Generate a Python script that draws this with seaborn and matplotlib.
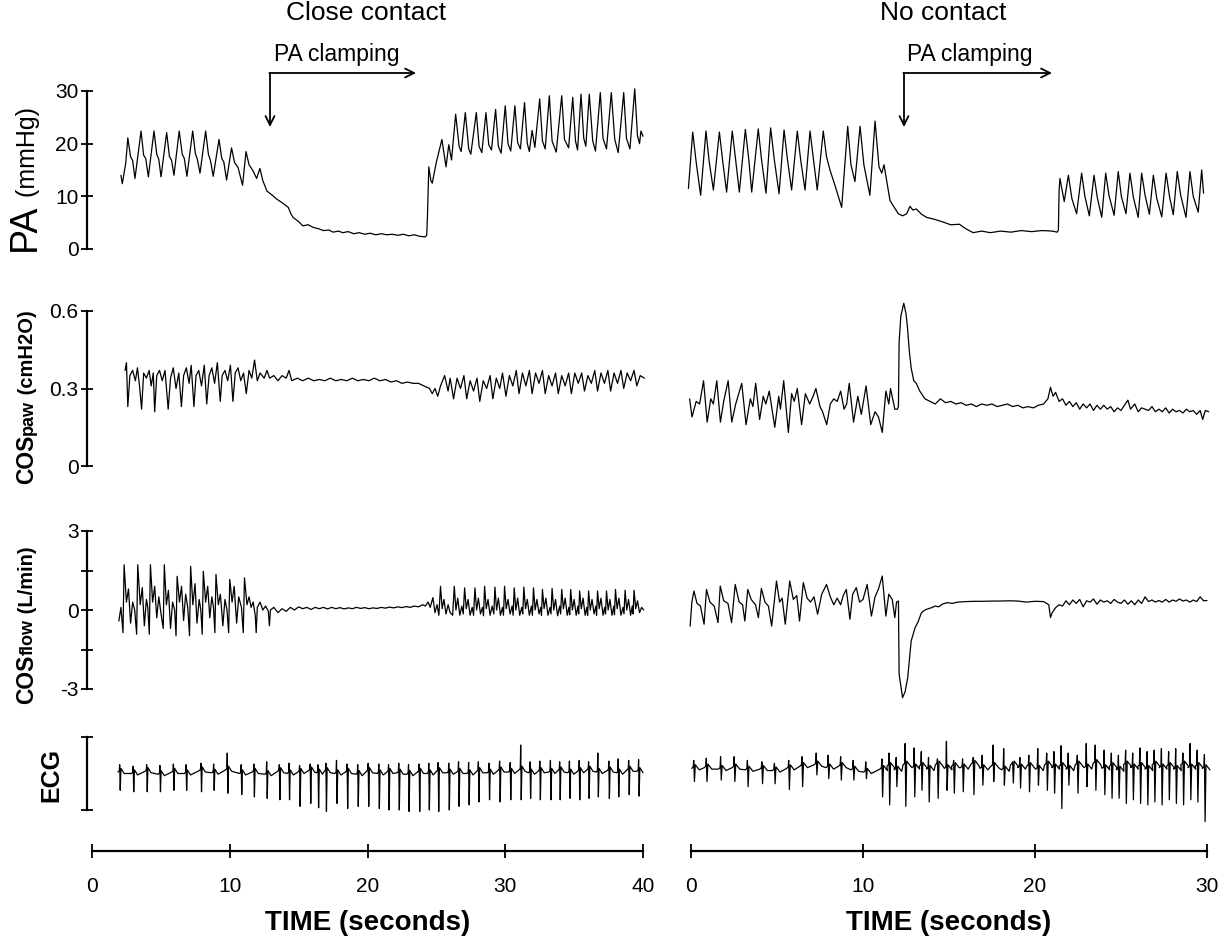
import matplotlib
matplotlib.use("Agg")
import matplotlib.pyplot as plt
import seaborn as sns

sns.set_style("ticks", {"text.color": "black", "axes.labelcolor": "black",
                        "xtick.color": "black", "ytick.color": "black", "axes.edgecolor": "black"})
plt.rcParams["font.family"] = ["Liberation Sans", "DejaVu Sans"]

# ---------------- data ----------------
titles = ["Close contact", "No contact"]
time_ticks_left = [0, 10, 20, 30, 40]
time_ticks_right = [0, 10, 20, 30]

# PA (mmHg), close contact
PA_L = [(2.1,14.0),(2.2,12.4),(2.45,16.3),(2.6,21.1),(2.8,17.5),(2.95,16.8),(3.12,13.4),(3.56,22.4),(3.75,17.8),(3.9,17.2),
        (4.09,13.7),(4.5,22.4),(4.7,18.0),(4.85,17.0),(5.01,13.7),(5.42,22.1),(5.62,17.6),(5.78,16.8),(5.95,14.0),(6.33,22.4),
        (6.55,18.0),(6.7,17.2),(6.89,13.8),(7.31,22.4),(7.5,18.2),(7.65,17.0),(7.84,14.4),(8.25,22.4),(8.45,18.0),(8.6,16.8),
        (8.8,13.8),(9.22,20.8),(9.42,17.2),(9.57,16.5),(9.77,13.1),(10.13,19.2),(10.35,16.4),(10.6,15.5),(10.93,12.1),(11.18,18.5),
        (11.4,16.0),(11.7,14.8),(11.95,13.4),(12.19,15.3),(12.4,13.0),(12.7,11.0),(13.0,10.4),(13.4,9.5),(13.9,8.6),(14.25,7.9),
        (14.45,6.6),(14.6,6.0),(15.0,5.2),(15.3,4.4),(15.7,4.6),(16.06,4.1),(16.5,3.8),(16.8,3.5),(17.2,3.6),(17.5,3.2),
        (17.9,3.4),(18.2,3.1),(18.6,3.3),(19.0,2.9),(19.4,3.1),(19.8,2.8),(20.2,3.0),(20.6,2.7),(21.0,2.9),(21.4,2.7),
        (21.8,2.8),(22.2,2.6),(22.6,2.8),(23.0,2.5),(23.4,2.7),(23.8,2.4),(24.2,2.3),(24.3,2.6),(24.35,6.0),(24.45,15.6),
        (24.6,13.0),(24.7,12.5),(25.0,16.5),(25.4,20.8),(25.7,15.6),(25.9,19.8),(26.1,16.9),
        (26.4,25.6),(26.65,19.5),(26.8,18.5),(27.1,25.9),(27.35,19.0),(27.5,18.0),(27.9,25.9),(28.1,19.5),(28.3,18.3),
        (28.6,25.9),(28.8,19.8),(29.0,18.8),(29.3,26.5),(29.5,19.5),(29.7,18.2),(30.0,27.2),(30.2,20.0),(30.4,18.6),
        (30.7,27.2),(30.9,20.2),(31.1,19.0),(31.4,27.8),(31.6,20.0),(31.75,18.5),(31.95,22.5),(32.15,19.3),(32.5,28.5),
        (32.7,20.5),(32.9,19.0),(33.2,29.1),(33.4,20.5),(33.7,18.4),(34.1,29.1),(34.3,20.8),(34.6,19.2),(34.9,28.8),
        (35.1,20.5),(35.25,18.8),(35.5,29.4),(35.7,21.0),(35.85,19.5),(36.1,29.4),(36.35,20.5),(36.55,18.6),(36.9,29.7),
        (37.1,21.0),(37.35,19.0),(37.7,29.7),(37.95,20.8),(38.2,18.3),(38.6,29.7),(38.8,21.0),(39.05,19.0),(39.4,30.4),
        (39.6,21.5),(39.75,20.0),(39.85,22.4),(40.0,21.4)]

# PA (mmHg), no contact
PA_R = [(-0.15,11.5),(0.1,22.2),(0.3,16.5),(0.56,10.2),(0.87,22.4),(1.05,16.8),(1.3,11.2),(1.65,22.2),(1.85,16.5),(2.07,10.8),
        (2.4,22.4),(2.6,16.8),(2.81,10.8),(3.16,22.7),(3.36,17.0),(3.53,10.8),(3.91,22.8),(4.1,17.0),(4.36,10.6),(4.63,23.0),
        (4.85,16.8),(5.12,10.5),(5.41,22.6),(5.6,17.2),(5.85,11.2),(6.18,22.4),(6.38,16.8),(6.63,11.2),(6.92,22.4),(7.12,17.0),
        (7.34,11.2),(7.69,22.4),(7.88,17.5),(8.08,15.0),(8.37,12.1),(8.76,7.9),(9.11,23.3),(9.3,16.0),(9.53,12.8),(9.83,23.3),
        (10.05,16.0),(10.4,10.2),(10.7,24.3),(10.93,15.6),(11.09,14.4),(11.22,16.0),(11.57,9.2),(12.05,6.7),(12.3,6.3),(12.54,6.7),
        (12.73,8.1),(12.9,7.4),(13.1,7.6),(13.4,6.6),(13.7,6.0),(14.2,5.6),(14.67,5.1),(15.1,4.6),(15.6,4.7),(16.0,3.8),
        (16.4,3.1),(16.9,3.4),(17.4,3.1),(18.0,3.4),(18.6,3.2),(19.2,3.5),(19.8,3.3),(20.4,3.5),(21.0,3.4),(21.3,3.2),
        (21.36,3.6),(21.4,11.0),(21.45,13.4),(21.7,9.0),(21.94,14.0),(22.15,9.5),(22.42,6.7),(22.71,14.4),(22.9,10.0),(23.16,6.3),
        (23.43,14.0),(23.62,9.8),(23.88,6.0),(24.11,14.4),(24.3,10.2),(24.6,6.4),(24.84,14.7),(25.02,10.0),(25.29,6.7),(25.52,14.4),
        (25.72,9.8),(26.0,6.0),(26.2,14.4),(26.4,10.2),(26.65,6.6),(26.88,14.0),(27.08,9.6),(27.37,6.1),(27.62,14.4),(27.82,10.0),
        (28.04,6.5),(28.27,14.7),(28.47,10.2),(28.78,6.0),(29.01,14.7),(29.2,10.0),(29.49,7.0),(29.69,15.0),(29.8,10.6)]

# COSpaw (cmH2O), close contact
PAW_L = [(2.4,0.37),(2.5,0.40),(2.6,0.23),(2.75,0.35),(2.95,0.37),(3.15,0.33),(3.3,0.38),(3.45,0.31),(3.6,0.22),(3.75,0.36),
         (3.95,0.34),(4.15,0.37),(4.3,0.31),(4.45,0.36),(4.55,0.21),(4.7,0.35),(4.9,0.37),(5.1,0.33),(5.3,0.37),(5.53,0.22),
         (5.7,0.34),(5.9,0.38),(6.1,0.30),(6.3,0.36),(6.49,0.23),(6.65,0.35),(6.85,0.38),(7.05,0.32),(7.2,0.39),(7.4,0.23),
         (7.55,0.35),(7.75,0.37),(7.95,0.31),(8.15,0.39),(8.33,0.24),(8.5,0.35),(8.7,0.38),(8.9,0.32),(9.1,0.40),(9.31,0.25),
         (9.45,0.35),(9.65,0.37),(9.85,0.33),(10.05,0.39),(10.23,0.25),(10.4,0.36),(10.6,0.38),(10.8,0.33),(11.0,0.36),(11.2,0.28),
         (11.4,0.37),(11.6,0.34),(11.8,0.41),(12.0,0.33),(12.2,0.36),(12.5,0.34),(12.7,0.37),(12.9,0.34),(13.2,0.35),(13.5,0.33),
         (13.8,0.35),(14.1,0.34),(14.3,0.37),(14.5,0.33),(14.9,0.34),(15.3,0.33),(15.7,0.34),(16.1,0.33),(16.5,0.335),(16.9,0.33),
         (17.3,0.34),(17.7,0.33),(18.1,0.335),(18.5,0.33),(18.9,0.34),(19.3,0.33),(19.7,0.335),(20.1,0.33),(20.5,0.34),(20.9,0.33),
         (21.3,0.335),(21.7,0.325),(22.1,0.33),(22.5,0.32),(22.9,0.325),(23.3,0.32),(23.7,0.32),(24.1,0.31),(24.5,0.30),(24.7,0.28),
         (24.9,0.30),(25.1,0.27),(25.3,0.31),(25.6,0.35),(25.85,0.29),(26.0,0.34),(26.25,0.26),(26.5,0.34),(26.75,0.30),(27.0,0.35),
         (27.2,0.26),(27.45,0.33),(27.7,0.29),(27.95,0.34),(28.15,0.25),(28.4,0.33),(28.65,0.30),(28.9,0.35),(29.1,0.26),(29.35,0.34),
         (29.6,0.30),(29.8,0.36),(30.05,0.27),(30.3,0.35),(30.55,0.31),(30.8,0.37),(31.0,0.28),(31.25,0.36),(31.5,0.31),(31.75,0.37),
         (31.95,0.28),(32.2,0.36),(32.45,0.32),(32.7,0.37),(32.9,0.28),(33.15,0.35),(33.4,0.31),(33.65,0.36),(33.85,0.28),(34.1,0.35),
         (34.35,0.31),(34.6,0.36),(34.8,0.28),(35.05,0.36),(35.3,0.32),(35.55,0.36),(35.75,0.29),(36.0,0.35),(36.25,0.32),(36.5,0.37),
         (36.7,0.29),(36.95,0.36),(37.2,0.32),(37.45,0.37),(37.65,0.29),(37.9,0.36),(38.15,0.32),(38.4,0.37),(38.6,0.30),(38.85,0.36),
         (39.1,0.33),(39.35,0.37),(39.55,0.31),(39.8,0.35),(40.1,0.34)]

# COSpaw (cmH2O), no contact
PAW_R = [(-0.08,0.26),(0.06,0.19),(0.3,0.25),(0.5,0.24),(0.73,0.33),(0.94,0.17),(1.15,0.26),(1.3,0.24),(1.5,0.33),(1.71,0.17),
         (1.9,0.25),(2.16,0.33),(2.37,0.17),(2.6,0.24),(2.95,0.32),(3.2,0.16),(3.45,0.26),(3.6,0.23),(3.76,0.32),(3.99,0.18),
         (4.2,0.27),(4.35,0.24),(4.55,0.29),(4.87,0.15),(5.1,0.27),(5.2,0.22),(5.39,0.33),(5.66,0.13),(5.85,0.28),(6.0,0.25),
         (6.18,0.30),(6.43,0.16),(6.65,0.28),(6.9,0.24),(7.1,0.27),(7.26,0.30),(7.5,0.23),(7.65,0.21),(7.89,0.16),(8.1,0.24),
         (8.3,0.26),(8.5,0.25),(8.7,0.29),(8.9,0.22),(9.05,0.24),(9.2,0.32),(9.45,0.17),(9.7,0.27),(9.9,0.20),(10.18,0.31),
         (10.45,0.16),(10.7,0.21),(10.9,0.19),(11.12,0.13),(11.33,0.29),(11.5,0.24),(11.6,0.30),(11.85,0.22),(12.0,0.22),(12.06,0.23),
         (12.1,0.48),(12.2,0.58),(12.37,0.63),(12.5,0.59),(12.58,0.54),(12.7,0.44),(12.8,0.38),(12.95,0.33),(13.1,0.32),(13.3,0.29),
         (13.6,0.26),(13.9,0.25),(14.2,0.24),(14.5,0.26),(14.8,0.245),(15.1,0.25),(15.4,0.24),(15.7,0.245),(16.0,0.235),(16.3,0.24),
         (16.6,0.23),(16.9,0.24),(17.2,0.235),(17.5,0.24),(17.8,0.23),(18.1,0.235),(18.4,0.24),(18.7,0.23),(19.0,0.235),(19.3,0.225),
         (19.6,0.23),(19.9,0.225),(20.2,0.235),(20.5,0.24),(20.75,0.26),(20.9,0.305),(21.05,0.27),(21.2,0.285),(21.4,0.25),(21.6,0.26),
         (21.8,0.235),(22.0,0.25),(22.2,0.23),(22.4,0.245),(22.6,0.22),(22.8,0.24),(23.0,0.225),(23.2,0.24),(23.4,0.215),(23.6,0.235),
         (23.8,0.22),(24.0,0.235),(24.2,0.22),(24.4,0.23),(24.6,0.21),(24.8,0.225),(25.0,0.215),(25.2,0.235),(25.4,0.255),(25.55,0.22),
         (25.8,0.24),(26.0,0.21),(26.2,0.225),(26.4,0.22),(26.6,0.215),(26.8,0.23),(27.0,0.21),(27.2,0.22),(27.4,0.21),(27.6,0.225),
         (27.8,0.205),(28.0,0.22),(28.2,0.21),(28.4,0.215),(28.6,0.205),(28.8,0.22),(29.0,0.21),(29.2,0.215),(29.4,0.20),(29.6,0.215),
         (29.75,0.18),(29.9,0.215),(30.1,0.21)]

# COSflow (L/min), close contact
FLOW_L = [(1.95,-0.42),(2.1,0.1),(2.25,-0.86),(2.33,1.72),(2.5,0.3),(2.65,0.8),(2.8,-0.5),(2.95,0.3),(3.1,0.0),
          (3.24,-0.92),(3.32,1.72),(3.5,0.2),(3.65,0.85),(3.8,-0.6),(3.95,0.4),(4.05,0.1),
          (4.16,-0.92),(4.24,1.72),(4.4,0.3),(4.55,0.9),(4.7,-0.3),(4.85,0.5),(5.0,-0.1),
          (5.17,-0.7),(5.25,1.72),(5.4,0.2),(5.55,0.75),(5.7,-0.7),(5.85,0.3),(6.0,0.0),
          (6.1,-0.98),(6.18,1.28),(6.35,0.3),(6.5,0.9),(6.65,-0.4),(6.8,0.6),(6.95,0.1),
          (7.08,-0.98),(7.16,1.66),(7.32,0.2),(7.48,1.0),(7.62,-0.5),(7.78,0.4),(7.9,0.0),
          (8.0,-0.92),(8.08,1.47),(8.25,0.3),(8.4,0.9),(8.55,-0.3),(8.7,0.5),(8.82,0.1),
          (8.92,-0.86),(9.0,1.35),(9.17,0.2),(9.32,0.6),(9.5,-0.6),(9.65,0.4),(9.8,0.0),
          (9.92,-0.86),(10.0,1.16),(10.17,0.3),(10.32,0.9),(10.5,-0.5),(10.65,0.5),(10.85,0.1),
          (10.98,-0.86),(11.07,1.22),(11.25,0.2),(11.4,0.5),(11.55,0.1),(11.7,0.3),(11.85,-0.2),(11.92,-0.86),(12.0,0.1),
          (12.2,0.3),(12.4,0.0),(12.6,0.15),(12.8,-0.05),(12.88,-0.6),(12.95,0.0),(13.2,0.1),(13.5,-0.1),(13.8,0.05),
          (14.1,-0.05),(14.4,0.1),(14.7,0.0),(15.0,0.12),(15.3,0.05),(15.6,0.1),(15.9,0.02),(16.2,0.1),(16.5,0.05),(16.8,0.1),
          (17.1,0.04),(17.4,0.1),(17.7,0.05),(18.0,0.09),(18.3,0.04),(18.6,0.08),(18.9,0.05),(19.2,0.1),(19.5,0.06),(19.8,0.09),
          (20.1,0.05),(20.4,0.08),(20.7,0.06),(21.0,0.1),(21.3,0.07),(21.6,0.11),(21.9,0.08),(22.2,0.12),(22.5,0.09),(22.8,0.13),
          (23.1,0.1),(23.4,0.15),(23.7,0.12),(24.0,0.2),(24.2,0.15),(24.4,0.3),(24.55,0.1),
          (24.75,0.47),(24.9,-0.1),(25.05,0.2),(25.18,-0.2),(25.3,0.9),(25.42,0.05),(25.55,0.4),(25.7,-0.15),(25.85,0.2),(26.0,-0.1),
          (26.18,-0.2),(26.3,0.9),(26.42,0.0),(26.55,0.45),(26.7,-0.2),(26.85,0.15),(26.95,-0.15),(27.05,0.84),(27.17,0.05),(27.3,0.4),
          (27.45,-0.2),(27.6,0.1),(27.7,-0.2),(27.8,0.84),(27.92,0.0),(28.05,0.45),(28.2,-0.15),(28.35,0.1),(28.42,-0.22),(28.5,0.9),
          (28.62,0.05),(28.75,0.4),(28.9,-0.2),(29.05,0.15),(29.17,-0.15),(29.25,0.87),(29.37,0.0),(29.5,0.45),(29.65,-0.2),(29.8,0.1),
          (29.87,-0.2),(29.95,0.9),(30.07,0.05),(30.2,0.4),(30.35,-0.15),(30.5,0.15),(30.57,-0.2),(30.65,0.84),(30.77,0.0),(30.9,0.45),
          (31.05,-0.2),(31.2,0.1),(31.27,-0.15),(31.35,0.87),(31.47,0.05),(31.6,0.4),(31.75,-0.2),(31.9,0.15),(31.97,-0.2),(32.05,0.84),
          (32.17,0.0),(32.3,0.4),(32.45,-0.15),(32.58,0.1),(32.63,-0.2),(32.7,0.78),(32.82,0.05),(32.95,0.45),(33.1,-0.2),(33.25,0.1),
          (33.32,-0.15),(33.4,0.82),(33.52,0.0),(33.65,0.4),(33.8,-0.22),(33.95,0.15),(34.02,-0.15),(34.1,0.78),(34.22,0.05),(34.35,0.45),
          (34.5,-0.2),(34.62,0.1),(34.68,-0.18),(34.75,0.78),(34.87,0.0),(35.0,0.4),(35.15,-0.2),(35.28,0.15),(35.33,-0.15),(35.4,0.72),
          (35.52,0.05),(35.65,0.45),(35.8,-0.2),(35.92,0.1),(35.98,-0.2),(36.05,0.72),(36.17,0.0),(36.3,0.4),(36.45,-0.15),(36.58,0.15),
          (36.63,-0.2),(36.7,0.72),(36.82,0.05),(36.95,0.45),(37.1,-0.2),(37.22,0.1),(37.28,-0.15),(37.35,0.72),(37.47,0.0),(37.6,0.4),
          (37.75,-0.2),(37.88,0.15),(37.93,-0.18),(38.0,0.78),(38.12,0.05),(38.25,0.45),(38.4,-0.2),(38.55,0.1),(38.62,-0.15),(38.7,0.75),
          (38.82,0.0),(38.95,0.4),(39.1,-0.2),(39.22,0.15),(39.28,-0.15),(39.35,0.75),(39.47,0.05),(39.6,0.35),(39.75,-0.1),(39.9,0.1),
          (40.05,0.0)]

# COSflow (L/min), no contact
FLOW_R = [(-0.05,-0.61),(0.05,0.3),(0.17,0.72),(0.35,0.25),(0.55,0.15),(0.76,-0.54),(0.9,0.78),(1.1,0.3),(1.35,0.15),(1.57,-0.48),
          (1.7,0.91),(1.9,0.35),(2.15,0.25),(2.36,-0.48),(2.57,0.97),(2.8,0.3),(3.0,0.2),(3.13,-0.42),(3.3,0.78),(3.5,0.4),
          (3.75,0.2),(3.92,-0.29),(4.09,0.82),(4.3,0.3),(4.5,0.15),(4.69,-0.61),(4.97,1.1),(5.15,0.3),(5.3,0.45),(5.48,-0.54),
          (5.74,1.1),(5.95,0.4),(6.15,0.55),(6.31,-0.42),(6.53,1.04),(6.75,0.45),(6.95,0.3),(7.15,0.5),(7.36,-0.16),(7.6,0.6),
          (7.88,0.97),(8.1,0.5),(8.3,0.2),(8.5,0.45),(8.7,0.2),(8.85,0.55),(9.03,0.78),(9.24,-0.35),(9.4,0.6),(9.61,0.85),
          (9.8,0.3),(10.0,0.4),(10.24,0.97),(10.49,-0.23),(10.7,0.5),(10.9,0.8),(11.12,1.29),(11.33,-0.23),(11.5,0.6),(11.7,0.4),
          (11.85,-0.29),(11.95,0.3),(12.06,0.34),(12.1,-2.44),(12.3,-3.33),(12.45,-3.1),(12.6,-2.57),(12.8,-1.18),(13.03,-0.67),(13.2,-0.45),
          (13.4,-0.1),(13.6,0.0),(13.8,0.05),(14.0,0.09),(14.2,0.15),(14.4,0.12),(14.6,0.22),(14.9,0.28),(15.2,0.25),(15.5,0.3),
          (16.0,0.32),(16.5,0.33),(17.0,0.33),(17.5,0.34),(18.0,0.34),(18.5,0.35),(19.0,0.34),(19.5,0.3),(20.0,0.33),(20.5,0.32),
          (20.8,0.2),(20.9,-0.29),(21.0,-0.1),(21.2,0.09),(21.4,0.2),(21.6,0.15),(21.8,0.35),(22.0,0.2),(22.2,0.38),(22.4,0.25),
          (22.6,0.4),(22.8,0.12),(23.0,0.35),(23.2,0.3),(23.4,0.42),(23.6,0.22),(23.8,0.38),(24.0,0.3),(24.2,0.35),(24.4,0.25),
          (24.6,0.4),(24.8,0.3),(25.0,0.25),(25.2,0.38),(25.4,0.22),(25.6,0.35),(25.8,0.2),(26.0,0.38),(26.2,0.25),(26.4,0.5),
          (26.6,0.32),(26.8,0.38),(27.0,0.3),(27.2,0.36),(27.4,0.3),(27.6,0.4),(27.8,0.3),(28.0,0.38),(28.2,0.33),(28.4,0.42),
          (28.6,0.34),(28.8,0.38),(29.0,0.3),(29.2,0.38),(29.4,0.32),(29.6,0.5),(29.8,0.35),(30.0,0.36)]

# ECG beats (relative units; axis bar spans 0..1): beat time, R peak, S trough, baseline
ECG_L_t = [2.03,3.01,3.99,4.95,5.93,6.85,7.93,8.85,9.84,10.85,11.77,12.70,13.62,14.32,15.09,15.86,16.43,17.00,17.77,18.54,
           19.31,20.07,20.84,21.55,22.29,23.00,23.77,24.47,25.15,25.92,26.63,27.36,28.07,28.84,29.61,30.38,31.14,31.82,32.53,33.30,
           33.97,34.68,35.39,36.07,36.74,37.54,38.22,38.98,39.70]
ECG_L_r = [0.62,0.60,0.62,0.61,0.63,0.62,0.64,0.63,0.78,0.62,0.63,0.66,0.62,0.64,0.61,0.63,0.62,0.64,0.68,0.63,
           0.62,0.64,0.63,0.62,0.64,0.62,0.63,0.64,0.65,0.64,0.66,0.65,0.66,0.64,0.67,0.65,0.89,0.66,0.67,0.68,
           0.66,0.67,0.68,0.66,0.78,0.67,0.70,0.68,0.69]
ECG_L_s = [0.27,0.25,0.25,0.25,0.27,0.27,0.25,0.27,0.23,0.21,0.18,0.16,0.14,0.14,0.05,0.09,0.03,-0.02,0.09,0.02,
           0.05,0.05,0.02,0.0,0.0,-0.02,-0.02,0.0,-0.02,0.0,0.05,0.07,0.11,0.14,0.11,0.14,0.14,0.16,0.14,0.14,
           0.14,0.16,0.14,0.16,0.18,0.16,0.18,0.21,0.19]
ECG_L_b = [0.52,0.50,0.53,0.49,0.52,0.50,0.54,0.51,0.55,0.50,0.52,0.49,0.53,0.50,0.52,0.54,0.51,0.53,0.50,0.52,
           0.49,0.53,0.50,0.52,0.51,0.49,0.52,0.50,0.53,0.51,0.52,0.50,0.53,0.51,0.54,0.52,0.55,0.51,0.53,0.52,
           0.54,0.51,0.53,0.55,0.52,0.54,0.51,0.55,0.53]

ECG_R_t = [0.18,0.91,1.74,2.53,3.30,4.14,4.87,5.70,6.47,7.30,7.99,8.72,9.45,10.18,
           11.12,11.53,11.95,12.47,12.99,13.41,13.83,14.35,14.87,15.29,15.81,16.43,16.95,17.58,18.20,18.72,19.14,19.66,20.18,20.70,
           21.12,21.54,21.95,22.48,23.00,23.52,24.04,24.46,24.87,25.29,25.70,26.12,26.54,26.95,27.37,27.79,28.20,28.62,29.04,29.45,29.87]
ECG_R_r = [0.68,0.71,0.73,0.73,0.68,0.66,0.64,0.68,0.73,0.78,0.75,0.73,0.68,0.66,
           0.70,0.78,0.72,0.91,0.85,0.80,0.72,0.70,0.94,0.68,0.70,0.72,0.75,0.89,0.84,0.66,0.72,0.75,0.84,0.78,
           0.80,0.88,0.78,0.75,0.91,0.89,0.82,0.78,0.75,0.82,0.78,0.85,0.80,0.82,0.84,0.80,0.84,0.78,0.91,0.82,0.76]
ECG_R_s = [0.39,0.39,0.41,0.39,0.32,0.36,0.36,0.28,0.32,0.48,0.43,0.41,0.41,0.43,
           0.18,0.07,0.32,0.05,0.18,0.27,0.11,0.16,0.27,0.23,0.25,0.21,0.34,0.39,0.34,0.37,0.30,0.25,0.34,0.27,
           0.23,0.02,0.34,0.23,0.32,0.27,0.21,0.16,0.16,0.09,0.14,0.09,0.07,0.11,0.07,0.14,0.09,0.07,0.14,0.11,-0.16]
ECG_R_b = [0.57,0.58,0.56,0.58,0.55,0.56,0.54,0.57,0.60,0.62,0.58,0.60,0.55,0.52,
           0.56,0.60,0.55,0.62,0.58,0.60,0.56,0.62,0.57,0.60,0.58,0.63,0.57,0.60,0.55,0.62,0.58,0.60,0.56,0.62,
           0.58,0.60,0.56,0.62,0.58,0.64,0.57,0.60,0.55,0.62,0.58,0.60,0.56,0.62,0.58,0.60,0.56,0.62,0.58,0.60,0.57]

# ---------------- figure ----------------
W, H = 1219, 940
fig = plt.figure(figsize=(W / 100, H / 100), dpi=100)
FS_TICK = 15


def add_ax(x0, x1, ytop, ybot):
    ax = fig.add_axes([x0 / W, 1 - ybot / H, (x1 - x0) / W, (ybot - ytop) / H])
    ax.patch.set_alpha(0)
    return ax


def trace(ax, pts):
    t = [p[0] for p in pts]
    v = [p[1] for p in pts]
    sns.lineplot(x=t, y=v, ax=ax, color="black", linewidth=0.9, sort=False, estimator=None)
    for ln in ax.lines:
        ln.set_clip_on(False)


def ecg_pts(bt, r, s, b):
    pts = []
    for ti, ri, si, bi in zip(bt, r, s, b):
        pts += [(ti - 0.14, bi), (ti - 0.05, bi + 0.02), (ti - 0.02, ri), (ti + 0.02, si),
                (ti + 0.07, bi + 0.05), (ti + 0.3, bi - 0.02)]
    return pts


def clean(ax):
    for s in ax.spines.values():
        s.set_visible(False)
    ax.set_xticks([])
    ax.set_yticks([])
    ax.set_xlabel("")
    ax.set_ylabel("")


def left_axis(ax, lo, hi, ticks, labels):
    ax.spines["left"].set_visible(True)
    ax.spines["left"].set_position(("outward", 3.6))
    ax.spines["left"].set_linewidth(1.6)
    ax.spines["left"].set_bounds(lo, hi)
    ax.set_yticks(ticks)
    ax.set_yticklabels(labels)
    ax.tick_params(axis="y", left=True, direction="inout", length=8, width=1.3,
                   labelsize=FS_TICK, pad=2, colors="black")


LX0, LX1 = 92, 643
RX0, RX1 = 691, 1207
rows = {"pa": (91, 249), "paw": (311, 466), "flow": (531, 689), "ecg": (737, 810)}

# PA row
axL = add_ax(LX0, LX1, *rows["pa"])
trace(axL, PA_L)
axL.set_xlim(0, 40); axL.set_ylim(0, 30)
clean(axL)
left_axis(axL, 0, 30, [0, 10, 20, 30], ["0", "10", "20", "30"])

axR = add_ax(RX0, RX1, *rows["pa"])
trace(axR, PA_R)
axR.set_xlim(0, 30); axR.set_ylim(0, 30)
clean(axR)

# COSpaw row
axL = add_ax(LX0, LX1, *rows["paw"])
trace(axL, PAW_L)
axL.set_xlim(0, 40); axL.set_ylim(0, 0.6)
clean(axL)
left_axis(axL, 0, 0.6, [0, 0.3, 0.6], ["0", "0.3", "0.6"])

axR = add_ax(RX0, RX1, *rows["paw"])
trace(axR, PAW_R)
axR.set_xlim(0, 30); axR.set_ylim(0, 0.6)
clean(axR)

# COSflow row
axL = add_ax(LX0, LX1, *rows["flow"])
trace(axL, FLOW_L)
axL.set_xlim(0, 40); axL.set_ylim(-3, 3)
clean(axL)
left_axis(axL, -3, 3, [-3, -1.5, 0, 1.5, 3], ["-3", "", "0", "", "3"])

axR = add_ax(RX0, RX1, *rows["flow"])
trace(axR, FLOW_R)
axR.set_xlim(0, 30); axR.set_ylim(-3, 3)
clean(axR)

# ECG row
axL = add_ax(LX0, LX1, *rows["ecg"])
trace(axL, ecg_pts(ECG_L_t, ECG_L_r, ECG_L_s, ECG_L_b))
axL.set_xlim(0, 40); axL.set_ylim(0, 1)
clean(axL)
left_axis(axL, 0, 1, [0, 1], ["", ""])

axR = add_ax(RX0, RX1, *rows["ecg"])
trace(axR, ecg_pts(ECG_R_t, ECG_R_r, ECG_R_s, ECG_R_b))
axR.set_xlim(0, 30); axR.set_ylim(0, 1)
clean(axR)

# time axes
for x0, x1, tmax, ticks in [(LX0, LX1, 40, time_ticks_left), (RX0, RX1, 30, time_ticks_right)]:
    ax = add_ax(x0, x1, 840, 851)
    ax.set_xlim(0, tmax)
    ax.set_ylim(0, 1)
    for s in ["top", "right", "left"]:
        ax.spines[s].set_visible(False)
    ax.spines["bottom"].set_linewidth(1.6)
    ax.set_yticks([])
    ax.set_xticks(ticks)
    ax.set_xticklabels([str(t) for t in ticks])
    ax.tick_params(axis="x", bottom=True, direction="inout", length=10, width=1.3,
                   labelsize=FS_TICK, pad=14, colors="black")
    ax.set_xlabel("TIME (seconds)", fontsize=20, fontweight="bold", labelpad=10, color="black")

# overlay for titles, annotations and y labels (pixel coordinates)
ov = fig.add_axes([0, 0, 1, 1])
ov.set_xlim(0, W)
ov.set_ylim(H, 0)
ov.axis("off")
ov.patch.set_visible(False)

ov.text(366, 13, titles[0], fontsize=19, ha="center", va="center", color="black")
ov.text(943, 13, titles[1], fontsize=19, ha="center", va="center", color="black")

for xv, xh, xt in [(270, 416, 337), (904, 1052, 970)]:
    ov.text(xt, 55, "PA clamping", fontsize=16.5, ha="center", va="center", color="black")
    ov.annotate("", xy=(xv, 127), xytext=(xv, 73),
                arrowprops=dict(arrowstyle="->", lw=1.3, color="black", shrinkA=0, shrinkB=0, mutation_scale=16))
    ov.annotate("", xy=(xh, 73), xytext=(xv - 0.6, 73),
                arrowprops=dict(arrowstyle="->", lw=1.3, color="black", shrinkA=0, shrinkB=0, mutation_scale=16))

renderer = fig.canvas.get_renderer()


def vstack(x, ybot, pieces):
    y = ybot
    for s, size, weight in pieces:
        t = ov.text(x, y, s, rotation=90, rotation_mode="anchor", ha="left", va="baseline",
                    fontsize=size, fontweight=weight, color="black")
        bb = t.get_window_extent(renderer)
        y -= bb.height


vstack(35, 251, [("PA", 27, "normal"), (" (mmHg)", 18, "normal")])
vstack(33, 484, [("COS", 16.5, "bold"), ("paw", 13, "bold"), (" (cmH2O)", 14.5, "bold")])
vstack(33, 704, [("COS", 16.5, "bold"), ("flow", 13, "bold"), (" (L/min)", 14.5, "bold")])
vstack(58, 802, [("ECG", 18, "bold")])

fig.savefig("out.png", dpi=100)
